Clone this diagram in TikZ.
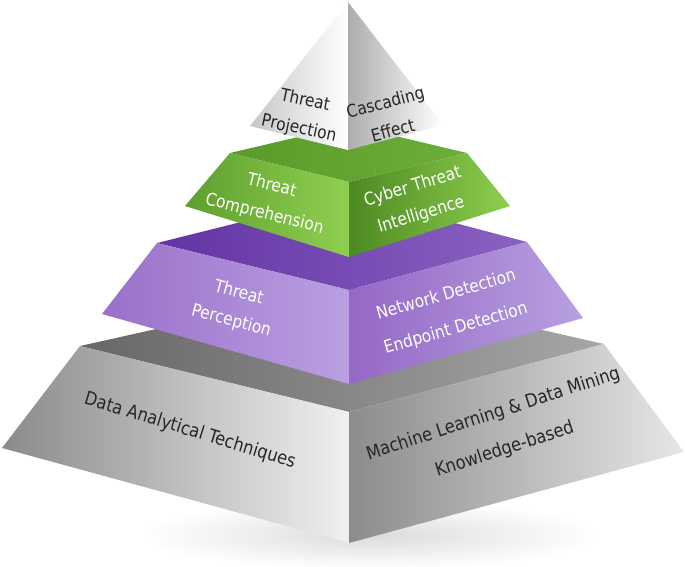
\documentclass[tikz,border=0pt]{standalone}
\usepackage{fontspec}
\setmainfont{DejaVu Sans}[FakeStretch=0.88]
\definecolor{gTopL}{HTML}{676767}
\definecolor{gTopR}{HTML}{A6A6A6}
\definecolor{gLL}{HTML}{8A8A8A}
\definecolor{gLR}{HTML}{F0F0F0}
\definecolor{gRL}{HTML}{8C8C8C}
\definecolor{gRR}{HTML}{E6E6E6}
\definecolor{pTopL}{HTML}{6334A5}
\definecolor{pTopR}{HTML}{8A62C0}
\definecolor{pLL}{HTML}{9A70C9}
\definecolor{pLR}{HTML}{BA9FE2}
\definecolor{pRL}{HTML}{9568C6}
\definecolor{pRR}{HTML}{B8A0E0}
\definecolor{vTopL}{HTML}{5A9A2A}
\definecolor{vTopR}{HTML}{6DAE38}
\definecolor{vLL}{HTML}{5E9E2E}
\definecolor{vLR}{HTML}{8FD052}
\definecolor{vRL}{HTML}{4C8A22}
\definecolor{vRR}{HTML}{8ECE4E}
\begin{document}
\begin{tikzpicture}[x=1pt,y=-1pt,
  lbl/.style={align=center,inner sep=0pt,font=\fontsize{17.5}{29}\selectfont},
  dk/.style={lbl,text=black!85},
  wt/.style={lbl,text=white}]
\useasboundingbox (0,0) rectangle (685,566);
% soft shadow
\shade[inner color=black!14,outer color=white] (370,535) ellipse (230 and 34);
% gray base layer
\shade[left color=gTopL,right color=gTopR] (80,346) -- (349,286) -- (604,344) -- (349,412) -- cycle;
\shade[left color=gLL,right color=gLR] (80,346) -- (349,412) -- (349,543) -- (2,448) -- cycle;
\shade[left color=gRL,right color=gRR] (349,412) -- (604,344) -- (684,452) -- (349,543) -- cycle;
% purple layer
\shade[left color=pTopL,right color=pTopR] (157,243) -- (349,195) -- (527,242) -- (349,290) -- cycle;
\shade[left color=pLL,right color=pLR] (157,243) -- (349,290) -- (349,384) -- (102,314) -- cycle;
\shade[left color=pRL,right color=pRR] (349,290) -- (527,242) -- (583,318) -- (349,384) -- cycle;
% green layer
\shade[left color=vTopL,right color=vTopR] (230,153) -- (349,125) -- (467,153) -- (349,182) -- cycle;
\shade[left color=vLL,right color=vLR] (230,153) -- (349,182) -- (349,257) -- (185,206) -- cycle;
\shade[left color=vRL,right color=vRR] (349,182) -- (467,153) -- (510,206) -- (349,257) -- cycle;
% white top pyramid
\shade[left color=black!22,middle color=white,right color=white] (348,2) -- (348,150) -- (250,126) -- cycle;
\shade[left color=black!32,right color=white] (348,2) -- (443,125) -- (348,150) -- cycle;
% labels
\node[dk,rotate=-12] (proj) at (302,115) {Threat\\Projection};
\node[dk,rotate=15] (casc) at (389,116) {Cascading\\Effect};
\node[wt,rotate=-14] (comp) at (268,200) {Threat\\Comprehension};
\node[wt,rotate=17] (cti) at (417,201) {Cyber Threat\\Intelligence};
\node[wt,rotate=-15] (perc) at (235,307) {Threat\\Perception};
\node[wt,rotate=16,font=\fontsize{17.5}{35}\selectfont] (det) at (451,312) {Network Detection\\Endpoint Detection};
\node[dk,rotate=-17,font=\fontsize{18.5}{30}\selectfont] (dat) at (190,431) {Data Analytical Techniques};
\node[dk,rotate=18,font=\fontsize{18.5}{37}\selectfont] (ml) at (499,432) {Machine Learning \& Data Mining\\Knowledge-based};
\end{tikzpicture}
\end{document}
